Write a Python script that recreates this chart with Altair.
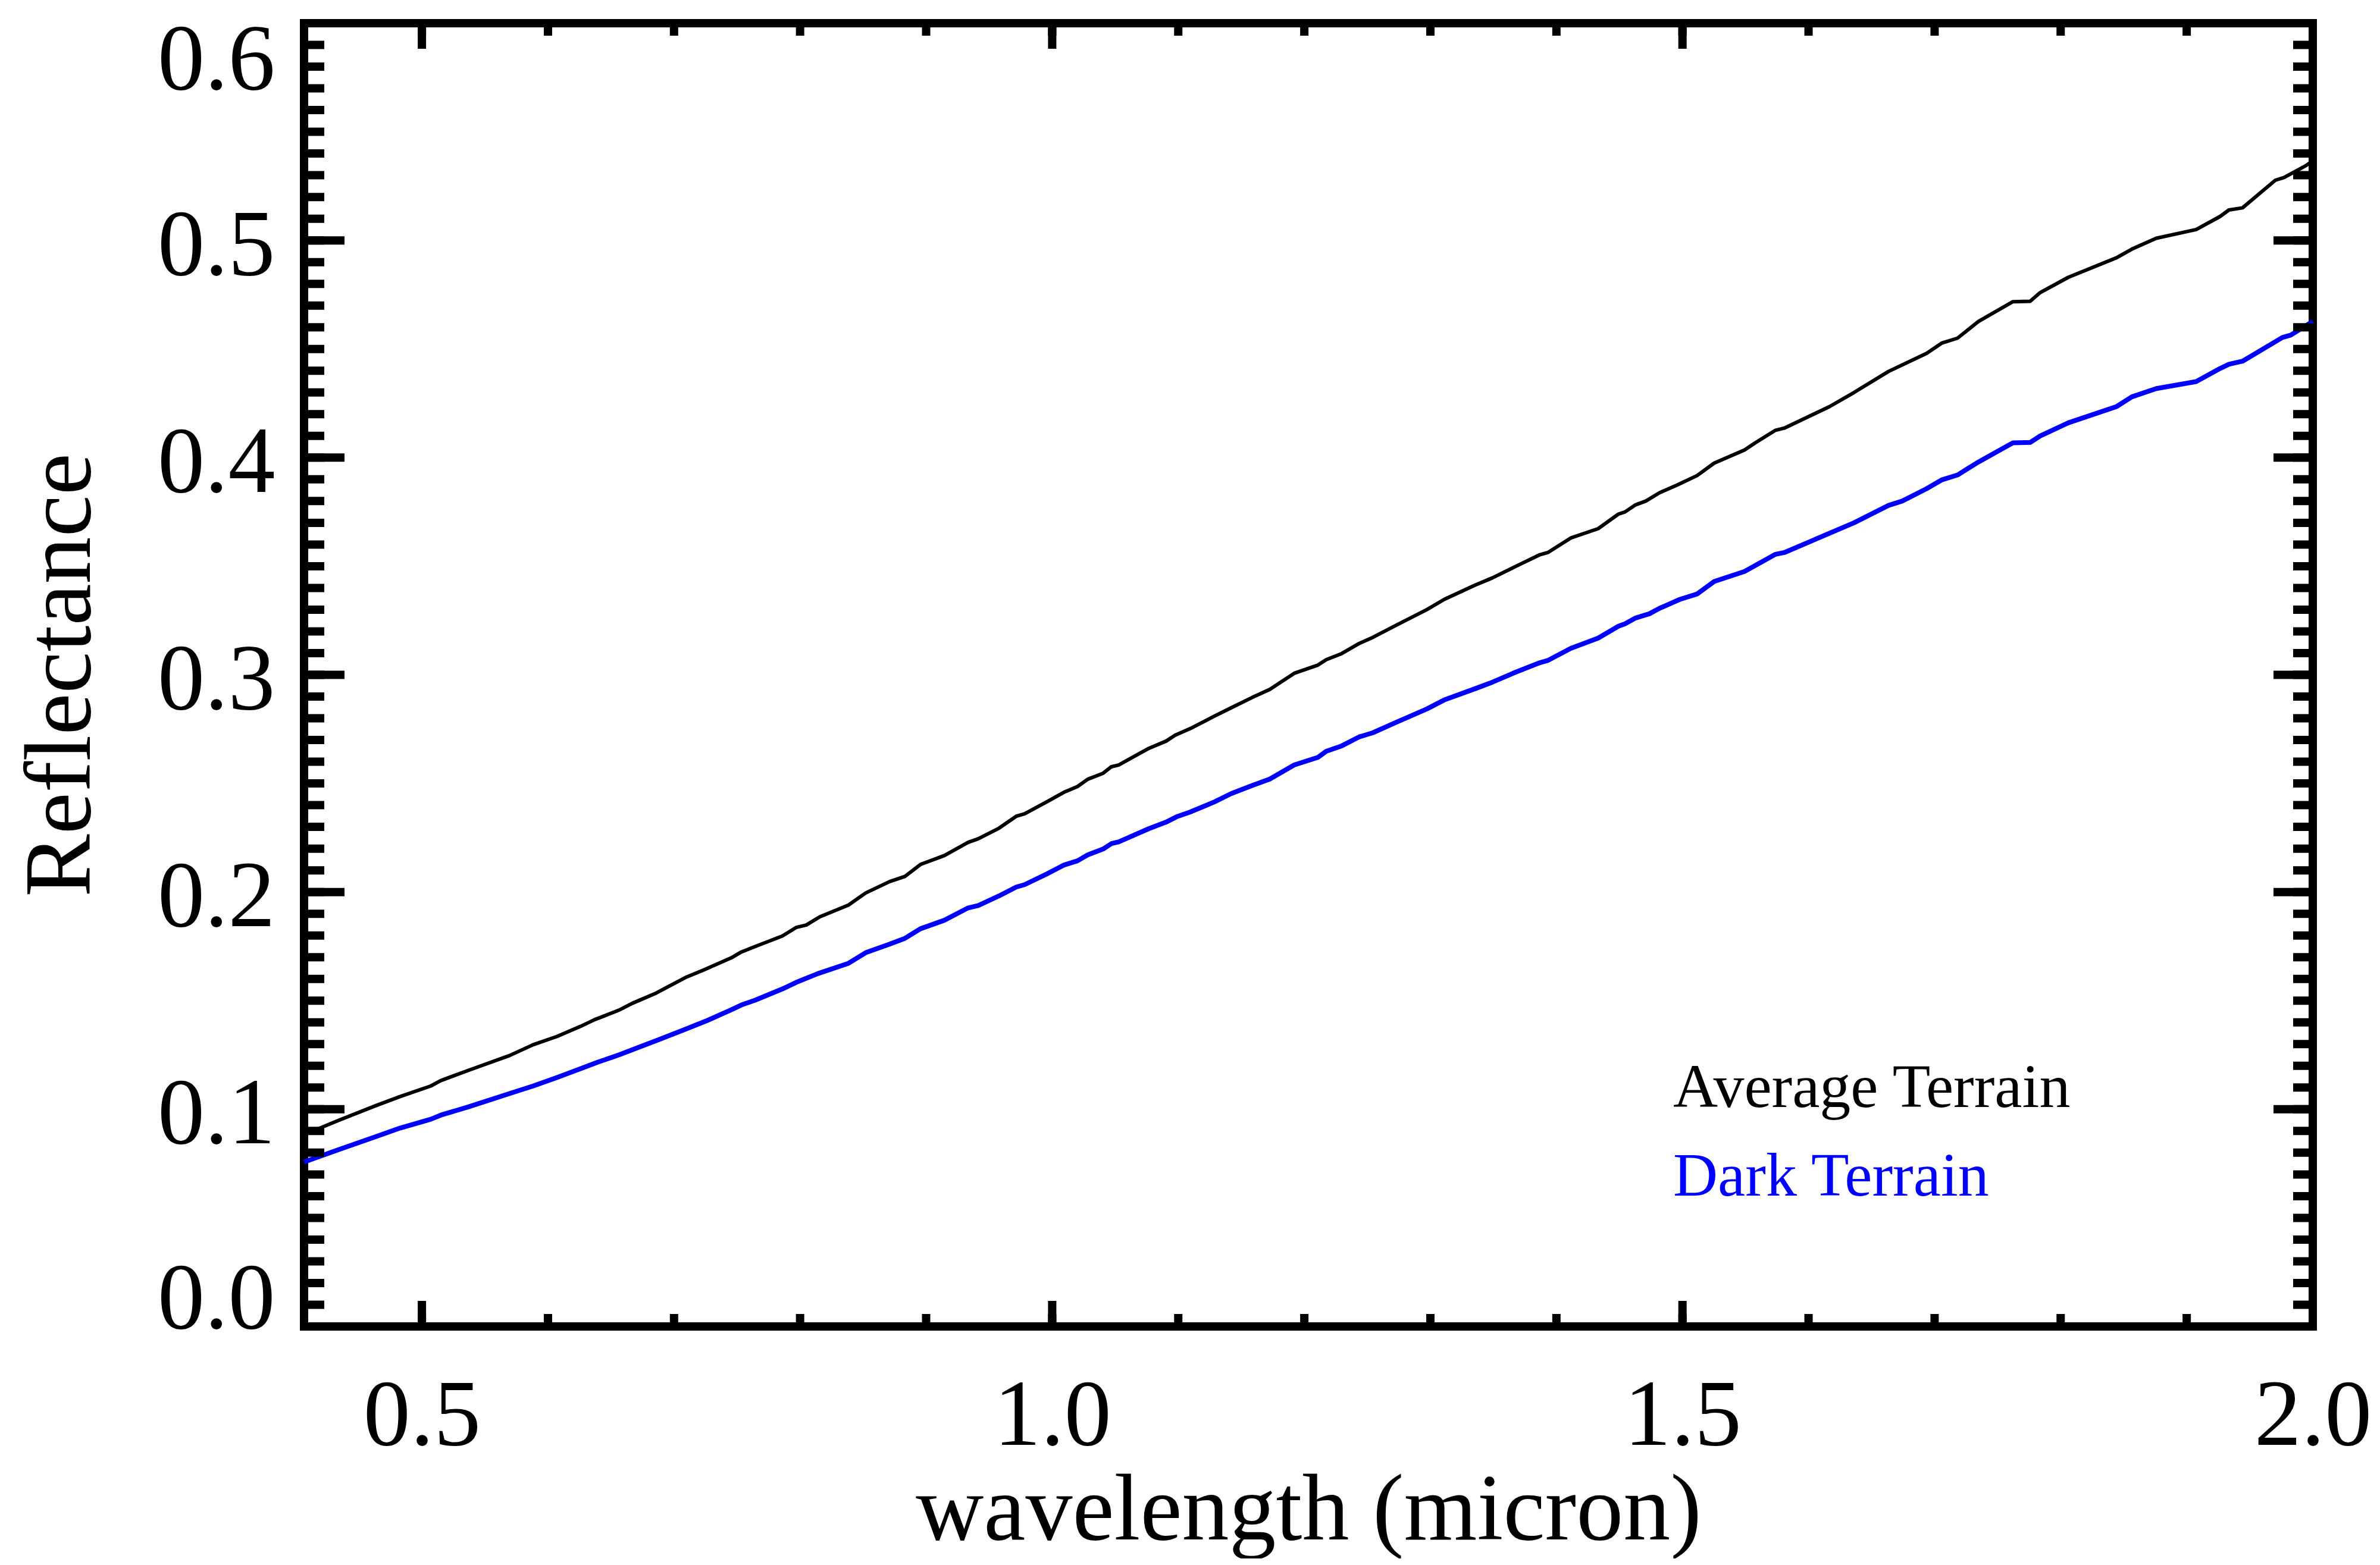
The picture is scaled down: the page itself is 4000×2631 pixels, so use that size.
import altair as alt
import pandas as pd

# ---- data ----
wl_avg = [0.4065, 0.4174, 0.4339, 0.4636, 0.4825, 0.507, 0.515, 0.5368, 0.5694, 0.5882,
          0.6071, 0.626, 0.6368, 0.6562, 0.667, 0.6859, 0.6939, 0.71, 0.7237, 0.7454,
          0.7534, 0.7643, 0.786, 0.7969, 0.8049, 0.8157, 0.8384, 0.8521, 0.871, 0.8832,
          0.8955, 0.9144, 0.9333, 0.9413, 0.9578, 0.9715, 0.9781, 0.9956, 1.0092, 1.0201,
          1.0281, 1.0404, 1.047, 1.0527, 1.0768, 1.0904, 1.0975, 1.1093, 1.1287, 1.1419,
          1.1584, 1.1726, 1.192, 1.2108, 1.2174, 1.2297, 1.2434, 1.2542, 1.2731, 1.2972,
          1.3109, 1.3354, 1.3491, 1.368, 1.3869, 1.3935, 1.4114, 1.4331, 1.4492, 1.4544,
          1.4629, 1.4709, 1.4817, 1.4954, 1.5115, 1.5252, 1.5492, 1.5577, 1.5738, 1.5813,
          1.6167, 1.6361, 1.6635, 1.6937, 1.7059, 1.7182, 1.7348, 1.7621, 1.7758, 1.7838,
          1.806, 1.8443, 1.8565, 1.8759, 1.9075, 1.9264, 1.9335, 1.9443, 1.9703, 1.9773,
          1.9948, 2.0]
refl_avg = [0.0885, 0.0909, 0.0949, 0.1017, 0.1058, 0.1107, 0.1132, 0.1179, 0.1247, 0.1297,
            0.1335, 0.1382, 0.1412, 0.1456, 0.1488, 0.1535, 0.156, 0.1609, 0.1642, 0.1697,
            0.1724, 0.1749, 0.1798, 0.1837, 0.1848, 0.1886, 0.194, 0.1996, 0.2048, 0.2072,
            0.2127, 0.2168, 0.2229, 0.2245, 0.2294, 0.2349, 0.236, 0.2415, 0.2459, 0.2486,
            0.2519, 0.2547, 0.2577, 0.2585, 0.2662, 0.2695, 0.2722, 0.2752, 0.281, 0.2848,
            0.2895, 0.2933, 0.3007, 0.3045, 0.307, 0.3098, 0.3144, 0.3172, 0.3229, 0.330,
            0.3347, 0.3413, 0.3446, 0.350, 0.3553, 0.3564, 0.363, 0.3673, 0.374, 0.375,
            0.3783, 0.380, 0.3838, 0.3873, 0.3917, 0.3975, 0.4035, 0.4068, 0.4126, 0.4137,
            0.4235, 0.430, 0.4397, 0.448, 0.4528, 0.455, 0.4627, 0.4718, 0.472, 0.476,
            0.483, 0.492, 0.496, 0.501, 0.505, 0.511, 0.514, 0.515, 0.5277, 0.529,
            0.5345, 0.5367]

wl_dark = [0.4065, 0.4339, 0.4636, 0.4825, 0.507, 0.515, 0.5368, 0.5694, 0.5882, 0.6071,
           0.626, 0.6397, 0.6562, 0.6722, 0.6883, 0.7076, 0.7265, 0.7454, 0.7534, 0.7643,
           0.786, 0.7969, 0.8143, 0.8384, 0.8521, 0.871, 0.8832, 0.8955, 0.9144, 0.9333,
           0.9413, 0.9578, 0.9715, 0.9781, 0.9956, 1.0092, 1.0201, 1.0281, 1.0404, 1.047,
           1.0527, 1.0768, 1.0904, 1.0985, 1.1093, 1.1287, 1.1419, 1.1584, 1.1726, 1.192,
           1.2108, 1.2174, 1.2297, 1.2434, 1.2542, 1.2731, 1.2972, 1.3109, 1.3354, 1.3491,
           1.368, 1.3869, 1.3935, 1.4114, 1.4331, 1.4492, 1.4544, 1.4629, 1.4737, 1.4817,
           1.4978, 1.5115, 1.5252, 1.5492, 1.5577, 1.5738, 1.5813, 1.603, 1.6361, 1.6635,
           1.6743, 1.6937, 1.7059, 1.7182, 1.7348, 1.7621, 1.7758, 1.7838, 1.806, 1.8443,
           1.8565, 1.8759, 1.9075, 1.9264, 1.9335, 1.9443, 1.9759, 1.9825, 2.0]
refl_dark = [0.0757, 0.0814, 0.0874, 0.0913, 0.0954, 0.0973, 0.1011, 0.1072, 0.1107, 0.1146,
             0.1187, 0.1217, 0.125, 0.1286, 0.1321, 0.1365, 0.1409, 0.1458, 0.148, 0.1502,
             0.1554, 0.1584, 0.1625, 0.1672, 0.1721, 0.176, 0.1787, 0.1831, 0.187, 0.1927,
             0.1938, 0.1982, 0.2023, 0.2034, 0.2083, 0.2124, 0.2144, 0.2171, 0.2198, 0.2223,
             0.2231, 0.2292, 0.2322, 0.2346, 0.2368, 0.2415, 0.2453, 0.249, 0.252, 0.2585,
             0.262, 0.2648, 0.2673, 0.2714, 0.2733, 0.2782, 0.2843, 0.2884, 0.2936, 0.2966,
             0.3013, 0.3056, 0.3067, 0.3122, 0.3169, 0.3224, 0.3235, 0.3262, 0.3281, 0.3306,
             0.3347, 0.3372, 0.343, 0.3476, 0.3503, 0.3555, 0.3564, 0.3618, 0.370, 0.378,
             0.380, 0.3857, 0.3898, 0.392, 0.398, 0.4068, 0.407, 0.410, 0.416, 0.4235,
             0.428, 0.4318, 0.435, 0.441, 0.443, 0.4444, 0.4553, 0.4564, 0.4627]

series_names = ["Average Terrain", "Dark Terrain"]
series_colors = ["#000000", "#0000ff"]
legend_x = [1.4926, 1.4926]
legend_y = [0.101, 0.0602]

x_ticks_major = [0.5, 1.0, 1.5, 2.0]
x_ticks_minor = [round(0.5 + 0.1 * i, 1) for i in range(16)]
y_ticks_major = [round(0.1 * i, 1) for i in range(7)]
y_ticks_minor = [round(0.01 * i, 2) for i in range(61)]

# ---- layout ----
W, H = 3376, 2191
FONT = "Liberation Serif"
FS = 158
TW = 14
XDOM = [0.4065, 2.0]
YDOM = [0.0, 0.6]

xs = alt.Scale(domain=XDOM, nice=False, zero=False)
ys = alt.Scale(domain=YDOM, nice=False, zero=False)
cs = alt.Scale(domain=series_names, range=series_colors)

df = pd.DataFrame({
    "wl": wl_avg + wl_dark,
    "refl": refl_avg + refl_dark,
    "series": [series_names[0]] * len(wl_avg) + [series_names[1]] * len(wl_dark),
})

x_axis = alt.Axis(values=x_ticks_major, format=".1f", title="wavelength (micron)",
                  ticks=False, tickSize=0, domain=False, grid=False,
                  labelFont=FONT, labelFontSize=FS, labelColor="black",
                  labelPadding=198, labelBaseline="alphabetic", labelFlush=False,
                  labelOverlap=False, labelLimit=1000,
                  titleFont=FONT, titleFontSize=FS, titleFontWeight="normal",
                  titleColor="black", titleX=W / 2, titleY=357, titleLimit=4000,
                  titleBaseline="alphabetic", titleAlign="center")
y_axis = alt.Axis(values=y_ticks_major, format=".1f", title="Reflectance",
                  ticks=False, tickSize=0, domain=False, grid=False,
                  labelFont=FONT, labelFontSize=FS, labelColor="black",
                  labelPadding=49, labelFlush=True, labelFlushOffset=25,
                  labelOffset=10, labelOverlap=False, labelLimit=1000,
                  titleFont=FONT, titleFontSize=FS, titleFontWeight="normal",
                  titleColor="black", titleX=-361, titleY=H / 2, titleAngle=270,
                  titleLimit=4000,
                  titleBaseline="alphabetic", titleAlign="center")

lines = alt.Chart(df).mark_line(strokeJoin="round").encode(
    x=alt.X("wl:Q", scale=xs, axis=x_axis),
    y=alt.Y("refl:Q", scale=ys, axis=y_axis),
    color=alt.Color("series:N", scale=cs, legend=None),
    strokeWidth=alt.StrokeWidth("series:N",
                                scale=alt.Scale(domain=series_names, range=[6, 8]),
                                legend=None),
)

def yticks(vals, x0, x1):
    return alt.Chart(pd.DataFrame({"v": vals})).mark_rule(
        color="black", strokeWidth=TW, strokeCap="butt").encode(
        y=alt.Y("v:Q", scale=ys, axis=y_axis), x=alt.value(x0), x2=alt.value(x1))

def xticks(vals, y0, y1):
    return alt.Chart(pd.DataFrame({"v": vals})).mark_rule(
        color="black", strokeWidth=TW, strokeCap="butt").encode(
        x=alt.X("v:Q", scale=xs, axis=x_axis), y=alt.value(y0), y2=alt.value(y1))

tick_layers = [
    yticks(y_ticks_minor, 0, 34), yticks(y_ticks_major, 0, 68),
    yticks(y_ticks_minor, W, W - 33), yticks(y_ticks_major, W, W - 66),
    xticks(x_ticks_minor, H, H - 21), xticks(x_ticks_major, H, H - 43),
    xticks(x_ticks_minor, 0, 21), xticks(x_ticks_major, 0, 43),
]

leg_df = pd.DataFrame({"series": series_names, "x": legend_x, "y": legend_y})
legend = alt.Chart(leg_df).mark_text(align="left", baseline="alphabetic",
                                     font=FONT, fontSize=104).encode(
    x=alt.X("x:Q", scale=xs, axis=x_axis),
    y=alt.Y("y:Q", scale=ys, axis=y_axis),
    text="series:N",
    color=alt.Color("series:N", scale=cs, legend=None),
)

chart = alt.layer(lines, *tick_layers, legend).properties(
    width=W, height=H,
    autosize=alt.AutoSizeParams(type="none"),
    padding={"left": 503, "top": 31, "right": 100, "bottom": 390},
    background="white",
).configure_view(stroke="black", strokeWidth=TW)

chart.save("out.html", embed_options={"renderer": "svg", "actions": False})
